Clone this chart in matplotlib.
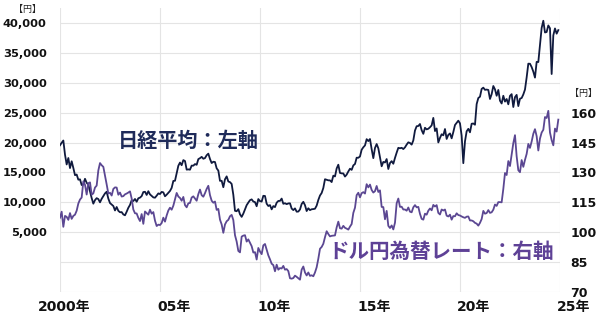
import numpy as np
import matplotlib
matplotlib.use('Agg')
import matplotlib.pyplot as plt
from matplotlib.transforms import offset_copy

plt.rcParams['font.family'] = ['DejaVu Sans', 'Noto Sans CJK JP']

# monthly values, Jan 2000 - Dec 2024
nikkei = [
    19540, 19960, 20337, 17974, 16332, 17411, 15727, 16861, 15747, 14539, 14649, 13786,  # 2000
    13843, 12884, 12999, 13934, 13262, 12969, 11861, 10714, 9775, 10367, 10697, 10543,   # 2001
    9998, 10588, 11025, 11493, 11764, 10622, 9877, 9619, 9383, 8640, 9216, 8579,          # 2002
    8340, 8363, 7973, 7831, 8425, 9083, 9563, 10344, 10219, 10560, 10101, 10677,          # 2003
    10784, 11042, 11715, 11762, 11236, 11859, 11326, 11082, 10824, 10771, 11111, 11489,   # 2004
    11388, 11740, 11669, 11009, 11277, 11584, 11900, 12414, 13574, 13607, 14872, 16111,   # 2005
    16650, 16205, 17060, 16906, 15467, 15505, 15457, 16141, 16128, 16399, 16274, 17226,   # 2006
    17383, 17604, 17288, 17400, 17876, 18138, 17249, 16569, 16786, 16737, 15681, 15308,   # 2007
    13592, 13603, 12526, 13850, 14339, 13481, 13377, 13073, 11260, 8577, 8512, 8860,      # 2008
    7994, 7568, 8110, 8828, 9523, 9958, 10357, 10493, 10133, 10035, 9346, 10546,          # 2009
    10198, 10126, 11090, 11057, 9769, 9383, 9537, 8824, 9369, 9202, 9937, 10229,          # 2010
    10238, 10624, 9755, 9850, 9694, 9816, 9833, 8955, 8700, 8988, 8435, 8455,             # 2011
    8803, 9723, 10084, 9521, 8543, 9007, 8695, 8840, 8870, 8928, 9446, 10395,             # 2012
    11139, 11559, 12398, 13861, 13775, 13677, 13668, 13389, 14456, 14328, 15662, 16291,   # 2013
    14915, 14841, 14828, 14304, 14632, 15162, 15621, 15425, 16174, 16414, 17460, 17451,   # 2014
    17674, 18798, 19207, 19520, 20563, 20236, 20585, 18890, 17388, 19083, 19747, 19034,   # 2015
    17518, 16027, 16759, 16666, 17235, 15576, 16569, 16887, 16450, 17425, 18308, 19114,   # 2016
    19041, 19119, 18909, 19197, 19651, 20033, 19925, 19646, 20356, 22012, 22725, 22765,   # 2017
    23098, 22068, 21454, 22468, 22202, 22305, 22554, 22865, 24120, 21920, 22351, 20015,   # 2018
    20773, 21385, 21206, 22259, 20601, 21276, 21522, 20704, 21756, 22927, 23294, 23657,   # 2019
    23205, 21143, 16550, 20194, 21878, 22288, 21710, 23140, 23185, 22977, 26434, 27444,   # 2020
    27663, 28966, 29179, 28813, 28860, 28792, 27284, 28090, 29453, 28893, 27822, 28792,   # 2021
    27002, 26527, 27821, 26848, 27280, 26393, 27802, 28092, 25937, 27587, 27969, 26095,   # 2022
    27327, 27446, 28041, 28856, 30888, 33189, 33172, 32619, 31858, 30859, 33487, 33464,   # 2023
    36287, 39166, 40369, 38406, 38488, 39583, 39102, 31460, 37920, 39081, 38208, 38800,   # 2024
]

usdjpy = [
    107.3, 110.3, 102.7, 108.2, 107.7, 106.2, 109.6, 106.7, 108.2, 108.8, 110.8, 114.4,  # 2000
    116.4, 117.4, 125.5, 123.8, 118.9, 124.6, 125.0, 118.8, 119.5, 122.4, 123.4, 131.0,  # 2001
    134.7, 133.6, 132.8, 128.5, 124.0, 119.4, 119.8, 118.4, 121.7, 122.5, 122.4, 118.8,  # 2002
    119.9, 117.9, 118.1, 119.0, 119.4, 119.9, 120.5, 116.9, 111.4, 109.5, 109.4, 107.2,  # 2003
    105.6, 109.1, 104.2, 110.4, 109.6, 108.8, 111.3, 109.3, 110.1, 105.8, 103.1, 103.8,  # 2004
    103.6, 104.6, 107.3, 105.3, 108.4, 110.9, 112.3, 111.3, 113.3, 116.4, 119.7, 117.9,  # 2005
    117.2, 115.8, 117.7, 113.6, 112.5, 114.5, 114.7, 117.4, 118.0, 116.9, 115.8, 119.1,  # 2006
    121.4, 118.6, 117.8, 119.6, 121.7, 123.3, 118.6, 115.8, 114.8, 115.4, 111.2, 111.7,  # 2007
    106.3, 103.9, 99.7, 103.9, 105.5, 106.2, 108.0, 108.7, 106.1, 98.5, 95.3, 90.6,      # 2008
    89.9, 97.8, 98.3, 98.5, 95.3, 96.4, 94.7, 93.0, 89.8, 90.0, 86.3, 92.1,              # 2009
    90.3, 89.0, 93.4, 94.1, 91.3, 88.4, 86.4, 84.2, 83.5, 80.4, 83.7, 81.2,              # 2010
    82.0, 81.8, 83.1, 81.2, 81.5, 80.5, 76.9, 76.7, 77.0, 78.2, 77.6, 76.9,              # 2011
    76.2, 81.2, 82.8, 79.8, 78.3, 79.8, 78.1, 78.4, 77.9, 79.8, 82.4, 86.7,              # 2012
    91.7, 92.6, 94.2, 97.5, 100.5, 99.1, 97.9, 98.2, 98.3, 98.4, 102.4, 105.3,           # 2013
    102.0, 101.8, 103.2, 102.2, 101.8, 101.3, 102.8, 104.1, 109.7, 112.3, 118.6, 119.8,  # 2014
    117.5, 119.6, 120.1, 119.4, 124.1, 122.5, 123.9, 121.2, 119.9, 120.6, 123.2, 120.2,  # 2015
    121.0, 112.7, 112.6, 106.5, 110.7, 103.2, 102.1, 103.4, 101.4, 104.8, 114.5, 116.9,  # 2016
    112.7, 112.8, 111.4, 111.4, 110.8, 112.4, 110.3, 110.0, 112.5, 113.6, 112.5, 112.7,  # 2017
    109.2, 106.7, 106.3, 109.3, 108.8, 110.8, 111.9, 111.0, 113.7, 112.9, 113.6, 109.7,  # 2018
    108.9, 111.4, 110.9, 111.4, 108.3, 107.9, 108.8, 106.3, 108.1, 108.0, 109.5, 108.6,  # 2019
    108.4, 107.9, 107.5, 107.2, 107.8, 107.9, 105.9, 105.9, 105.5, 104.7, 104.3, 103.3,  # 2020
    104.7, 106.6, 110.7, 109.3, 109.6, 111.1, 109.7, 110.0, 111.3, 113.9, 113.2, 115.1,  # 2021
    115.1, 115.0, 121.7, 129.7, 128.7, 135.7, 133.2, 138.9, 144.7, 148.7, 138.1, 131.1,  # 2022
    130.1, 136.2, 132.8, 136.3, 139.3, 144.3, 142.3, 145.5, 149.4, 151.7, 148.2, 141.0,  # 2023
    147.0, 150.0, 151.4, 157.8, 157.3, 160.9, 150.0, 146.2, 143.6, 152.0, 150.5, 156.5,  # 2024
]

years = 2000 + np.arange(len(nikkei)) / 12.0

left_ticks = [5000, 10000, 15000, 20000, 25000, 30000, 35000, 40000]
right_ticks = [70, 85, 100, 115, 130, 145, 160]
x_ticks = [2000, 2005, 2010, 2015, 2020, 2025]
x_labels = ['2000年', '05年', '10年', '15年', '20年', '25年']

navy = '#101a3e'
purple = '#5b4792'

fig = plt.figure(figsize=(6, 3.15), dpi=100)
ax = fig.add_axes([0.1, 0.073, 0.8333, 0.9016])
ax2 = ax.twinx()

ax.plot(years, nikkei, color=navy, lw=1.3, zorder=3)
ax2.plot(years, usdjpy, color=purple, lw=1.3, zorder=2)

ax.set_xlim(2000, 2025)
ax.set_ylim(-5000, 42500)
ax2.set_ylim(70, 212.5)

# grid
ax.set_yticks(np.arange(-5000, 40001, 5000))
ax.set_yticklabels(['', ''] + [f'{v:,}' for v in left_ticks])
ax.set_xticks(x_ticks)
ax.set_xticklabels(x_labels)
ax.grid(True, color='#e4e4e4', lw=0.8)
ax.set_axisbelow(True)
ax2.set_yticks(right_ticks)
ax2.set_yticklabels([str(v) for v in right_ticks])

for a in (ax, ax2):
    for s in a.spines.values():
        s.set_visible(False)
    a.tick_params(length=0)

# pads are in points (1 pt = 1.39 px here)
ax.tick_params(axis='y', pad=9.5, labelsize=8.2)
ax2.tick_params(axis='y', pad=7.5, labelsize=9)
ax.tick_params(axis='x', pad=6, labelsize=10)
for lab in ax.get_yticklabels() + ax2.get_yticklabels() + ax.get_xticklabels():
    lab.set_fontweight('bold')
    lab.set_color('#111111')

xl = ax.get_xticklabels()
for i, lab in enumerate(xl):
    if i == 0:
        lab.set_transform(offset_copy(lab.get_transform(), fig=fig, x=4, y=0, units='dots'))
    else:
        lab.set_ha('left')
        lab.set_transform(offset_copy(lab.get_transform(), fig=fig, x=-3, y=0, units='dots'))

# unit labels
fig.text(28 / 600, 1 - 9 / 315, '【円】', fontsize=6.5, ha='center', va='center',
         family=['Noto Sans CJK JP'], color='#222222')
fig.text(583 / 600, 1 - 93 / 315, '【円】', fontsize=6.5, ha='center', va='center',
         family=['Noto Sans CJK JP'], color='#222222')

ax.text(0.116, 0.535, '日経平均：左軸', transform=ax.transAxes, fontsize=14.5,
        fontweight='bold', color='#1f2b5a', ha='left', va='center',
        family=['Noto Sans CJK JP'], zorder=5)
ax.text(0.536, 0.141, 'ドル円為替レート：右軸', transform=ax.transAxes, fontsize=14.8,
        fontweight='bold', color='#5e4196', ha='left', va='center',
        family=['Noto Sans CJK JP'], zorder=5)

fig.savefig('out.png', dpi=100)
